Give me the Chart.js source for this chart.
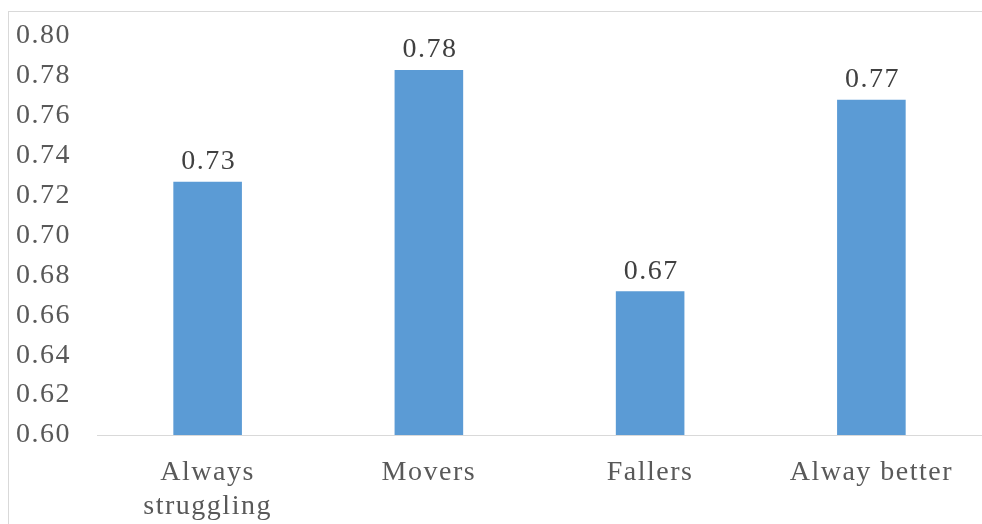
<!DOCTYPE html>
<html>
<head>
<meta charset="utf-8">
<script src="https://cdn.jsdelivr.net/npm/chart.js@4/dist/chart.umd.min.js"></script>
<style>
  html, body { margin: 0; padding: 0; background: #fff; overflow: hidden; }
  #frame { position: absolute; left: 8px; top: 11px; width: 990px; height: 530px; border: 1px solid #d9d9d9; }
  #chart { position: absolute; left: 0; top: 0; }
</style>
</head>
<body>
<div id="frame"></div>
<canvas id="chart" width="982" height="524"></canvas>
<script>
// Data
const categories = [['Always', 'struggling'], 'Movers', 'Fallers', 'Alway better'];
const scores = [0.727, 0.783, 0.672, 0.768];
const yTicks = [0.60, 0.62, 0.64, 0.66, 0.68, 0.70, 0.72, 0.74, 0.76, 0.78, 0.80];

const FONT = '"Liberation Serif", "Times New Roman", serif';

// Slightly looser tracking for all text
const spacing = {
    id: 'spacing',
    beforeDraw(chart) { chart.ctx.letterSpacing = '1.5px'; }
};

// Value labels above each bar
const barLabels = {
    id: 'barLabels',
    afterDatasetsDraw(chart) {
        const ctx = chart.ctx;
        const meta = chart.getDatasetMeta(0);
        ctx.save();
        ctx.font = '28px ' + FONT;
        ctx.fillStyle = '#404040';
        ctx.textAlign = 'center';
        ctx.textBaseline = 'bottom';
        meta.data.forEach((bar, i) => {
            ctx.fillText(scores[i].toFixed(2), bar.x + 1, bar.y - 6);
        });
        ctx.restore();
    }
};

new Chart(document.getElementById('chart').getContext('2d'), {
    type: 'bar',
    data: {
        labels: categories,
        datasets: [{
            data: scores,
            backgroundColor: '#5b9bd5',
            borderWidth: 0,
            categoryPercentage: 1,
            barPercentage: 0.31
        }]
    },
    options: {
        responsive: false,
        animation: false,
        layout: { padding: { top: 36, left: 0, right: 0, bottom: 0 } },
        plugins: {
            legend: { display: false },
            tooltip: { enabled: false }
        },
        scales: {
            x: {
                grid: { display: false, drawTicks: false },
                border: { display: true, color: '#d9d9d9', width: 1 },
                ticks: {
                    color: '#595959',
                    padding: 21,
                    maxRotation: 0,
                    autoSkip: false,
                    font: { family: FONT, size: 28, lineHeight: 1.2 }
                },
                afterFit: (scale) => { scale.height = 89; }
            },
            y: {
                min: 0.60,
                max: 0.80,
                afterBuildTicks: (scale) => { scale.ticks = yTicks.map(v => ({ value: v })); },
                grid: { display: false, drawTicks: false },
                border: { display: false },
                ticks: {
                    color: '#595959',
                    padding: 26,
                    font: { family: FONT, size: 28 },
                    callback: (v) => Number(v).toFixed(2)
                },
                // fixed axis width, no extra room above/below the end labels
                afterFit: (scale) => { scale.width = 97; scale.paddingTop = 0; scale.paddingBottom = 0; }
            }
        }
    },
    plugins: [spacing, barLabels]
});
</script>
</body>
</html>
